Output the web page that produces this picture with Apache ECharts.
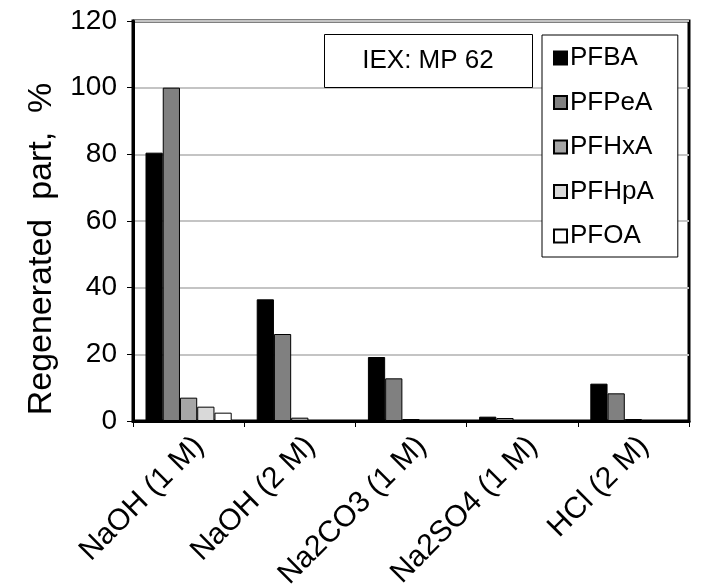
<!DOCTYPE html>
<html><head><meta charset="utf-8">
<script src="https://cdn.jsdelivr.net/npm/echarts@6/dist/echarts.min.js"></script>
<style>html,body{margin:0;padding:0;background:#fff}#c{width:711px;height:587px}</style>
</head><body><div id="c"></div>
<script>
const categories = ['NaOH (1 M)', 'NaOH (2 M)', 'Na2CO3 (1 M)', 'Na2SO4 (1 M)', 'HCl (2 M)'];
const seriesNames = ['PFBA', 'PFPeA', 'PFHxA', 'PFHpA', 'PFOA'];
const PFBA  = [80.5, 36.5, 19.2, 1.3, 11.2];
const PFPeA = [100, 26.1, 12.8, 0.9, 8.3];
const PFHxA = [7.0, 1.0, 0.6, 0.2, 0.6];
const PFHpA = [4.3, 0, 0, 0, 0];
const PFOA  = [2.5, 0, 0, 0, 0];
const yTicks = [0, 20, 40, 60, 80, 100, 120];
const colors = ['#000000', '#808080', '#a6a6a6', '#d9d9d9', '#ffffff'];
const values = [PFBA, PFPeA, PFHxA, PFHpA, PFOA];
const FONT = '"Liberation Sans", Arial, sans-serif';

const chart = echarts.init(document.getElementById('c'), null, {renderer: 'canvas'});
chart.setOption({
  animation: false,
  backgroundColor: '#fff',
  color: colors,
  grid: {left: 133, right: 22, top: 21, bottom: 166, containLabel: false, outerBoundsMode: 'none',
         show: true, borderColor: '#000', borderWidth: 3, backgroundColor: 'transparent'},
  legend: {
    orient: 'vertical', left: 542, top: 35,
    data: seriesNames,
    itemWidth: 13, itemHeight: 13, itemGap: 14.5,
    padding: [8, 24, 6, 11],
    borderColor: '#000', borderWidth: 1, backgroundColor: '#fff',
    textStyle: {fontFamily: FONT, fontSize: 26, color: '#000', lineHeight: 30, padding: [0, 0, 0, -2]},
    icon: 'rect'
  },
  xAxis: {
    type: 'category', data: categories,
    axisLine: {lineStyle: {color: '#000', width: 3}},
    axisTick: {show: true, alignWithLabel: false, length: 6, lineStyle: {color: '#000', width: 1}},
    axisLabel: {rotate: 45, fontFamily: FONT, fontSize: 30, color: '#000', margin: 10, interval: 0, align: 'right', verticalAlign: 'top'},
    splitLine: {show: false}
  },
  yAxis: {
    type: 'value', min: yTicks[0], max: yTicks[yTicks.length - 1], interval: 20,
    axisLine: {show: true, lineStyle: {color: '#000', width: 3}},
    axisTick: {show: true, length: 6, lineStyle: {color: '#000', width: 1}},
    axisLabel: {fontFamily: FONT, fontSize: 28, color: '#000', margin: 16},
    splitLine: {show: true, lineStyle: {color: '#c4c4c4', width: 2}}
  },
  graphic: [
    {type: 'text', x: 42, y: 249, rotation: Math.PI / 2,
     style: {text: 'Regenerated  part,  %', font: '34px ' + FONT, fill: '#000', textAlign: 'center', textVerticalAlign: 'middle'}},
    {type: 'rect', shape: {x: 324.5, y: 34.5, width: 208, height: 53}, style: {fill: '#fff', stroke: '#000', lineWidth: 1}, z: 100},
    {type: 'text', x: 428, y: 61, style: {text: 'IEX: MP 62', font: '26px ' + FONT, fill: '#000', textAlign: 'center', textVerticalAlign: 'middle'}, z: 101}
  ],
  series: seriesNames.map((n, i) => ({
    name: n, type: 'bar', data: values[i],
    barGap: '0%', barCategoryGap: '22.5%',
    itemStyle: {color: colors[i], borderColor: '#000', borderWidth: 1}
  }))
});
</script></body></html>
